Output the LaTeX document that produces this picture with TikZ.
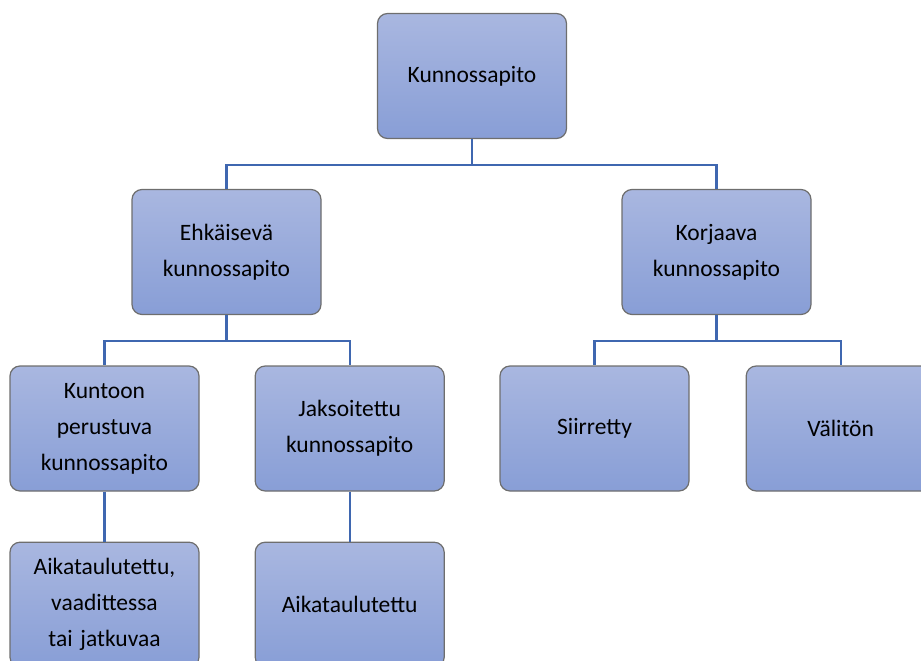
\documentclass[tikz,border=0pt]{standalone}
\usepackage{fontspec}
\setmainfont{Carlito}
\usetikzlibrary{positioning}

\definecolor{boxtop}{RGB}{169,183,224}
\definecolor{boxbot}{RGB}{136,158,214}
\definecolor{boxline}{RGB}{110,110,110}
\definecolor{linkblue}{RGB}{63,103,176}

\begin{document}
\begin{tikzpicture}[x=1pt, y=-1pt,
      box/.style={rectangle, rounded corners=10pt, draw=boxline, line width=1.2pt,
        top color=boxtop, bottom color=boxbot, minimum width=189pt, minimum height=125pt,
        text width=180pt, align=center, font=\fontsize{23.5}{36}\selectfont, inner sep=0pt},
      link/.style={draw=linkblue, line width=2.4pt}
      ]
      \useasboundingbox (0,0) rectangle (921,661);

      % Nodes
      \node[box] (root) at (472,76) {Kunnossapito};

      \node[box] (ehk) at (226.5,252) {Ehkäisevä\\kunnossapito};
      \node[box] (korj) at (716.5,252) {Korjaava\\kunnossapito};

      \node[box] (kunto) at (104.5,428.5) {Kuntoon\\perustuva\\kunnossapito};
      \node[box, right=55pt of kunto] (jakso) {Jaksoitettu\\kunnossapito};
      \node[box] (siirr) at (594.5,428.5) {Siirretty};
      \node[box, right=56pt of siirr] (valit) {Välitön};

      \node[box, below=50pt of kunto] (aika1) {Aikataulutettu,\\vaadittessa\\tai jatkuvaa};
      \node[box, below=50pt of jakso] (aika2) {Aikataulutettu};

      % Lines
      \draw[link] (root.south) -- ++(0,26) -| (ehk.north);
      \draw[link] (root.south) -- ++(0,26) -| (korj.north);
      \draw[link] (ehk.south) -- ++(0,26) -| (kunto.north);
      \draw[link] (ehk.south) -- ++(0,26) -| (jakso.north);
      \draw[link] (korj.south) -- ++(0,26) -| (siirr.north);
      \draw[link] (korj.south) -- ++(0,26) -| (valit.north);
      \draw[link] (kunto) -- (aika1);
      \draw[link] (jakso) -- (aika2);

    \end{tikzpicture}
\end{document}
